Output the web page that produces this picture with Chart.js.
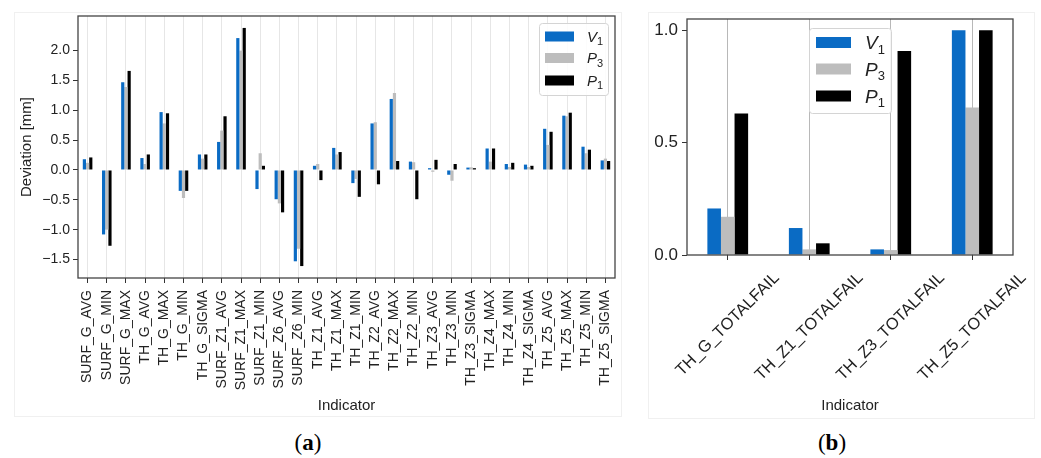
<!DOCTYPE html>
<html>
<head>
<meta charset="utf-8">
<script src="https://cdn.jsdelivr.net/npm/chart.js@4.4.1/dist/chart.umd.min.js"></script>
<style>
  body { margin: 0; background: #fff; width: 1041px; height: 458px; overflow: hidden; position: relative; }
  .panel { position: absolute; border: 1px solid #f0f0f0; }
  canvas { position: absolute; top: 0; }
  .cap { position: absolute; font-family: "Liberation Serif", serif; font-size: 23px; line-height: 30px; width: 60px; text-align: center; color: #000; }
</style>
</head>
<body>
<div class="panel" style="left:14px;top:12px;width:606px;height:403px"></div>
<div class="panel" style="left:648px;top:12px;width:385px;height:405px"></div>
<canvas id="chartA" width="640" height="420" style="left:0"></canvas>
<canvas id="chartB" width="401" height="420" style="left:640px"></canvas>
<div class="cap" style="left:278px;top:428px">(<b>a</b>)</div>
<div class="cap" style="left:802px;top:428px">(<b>b</b>)</div>
<script>
// panel (a): deviations
const categoriesA = ["SURF_G_AVG", "SURF_G_MIN", "SURF_G_MAX", "TH_G_AVG", "TH_G_MAX", "TH_G_MIN", "TH_G_SIGMA",
  "SURF_Z1_AVG", "SURF_Z1_MAX", "SURF_Z1_MIN", "SURF_Z6_AVG", "SURF_Z6_MIN", "TH_Z1_AVG", "TH_Z1_MAX", "TH_Z1_MIN",
  "TH_Z2_AVG", "TH_Z2_MAX", "TH_Z2_MIN", "TH_Z3_AVG", "TH_Z3_MIN", "TH_Z3_SIGMA", "TH_Z4_MAX", "TH_Z4_MIN",
  "TH_Z4_SIGMA", "TH_Z5_AVG", "TH_Z5_MAX", "TH_Z5_MIN", "TH_Z5_SIGMA"];
const v1A = [0.18, -1.08, 1.47, 0.20, 0.97, -0.35, 0.26, 0.47, 2.21, -0.32, -0.49, -1.53, 0.07, 0.37, -0.22,
  0.78, 1.19, 0.14, 0.03, -0.08, 0.04, 0.36, 0.10, 0.09, 0.69, 0.91, 0.39, 0.16];
const p3A = [0.12, -1.00, 1.39, 0.10, 0.78, -0.47, 0.19, 0.66, 2.00, 0.28, -0.56, -1.32, 0.10, 0.26, -0.15,
  0.80, 1.29, 0.13, -0.03, -0.18, 0.045, 0.14, 0.05, 0.05, 0.42, 0.90, 0.28, 0.19];
const p1A = [0.21, -1.27, 1.66, 0.26, 0.95, -0.35, 0.26, 0.90, 2.38, 0.07, -0.71, -1.61, -0.17, 0.30, -0.45,
  -0.24, 0.15, -0.49, 0.17, 0.10, 0.03, 0.36, 0.12, 0.07, 0.64, 0.96, 0.34, 0.15];
const yTicksA = [-1.5, -1.0, -0.5, 0.0, 0.5, 1.0, 1.5, 2.0];
const yMinA = -1.81, yMaxA = 2.58;

// panel (b): total fail
const categoriesB = ["TH_G_TOTALFAIL", "TH_Z1_TOTALFAIL", "TH_Z3_TOTALFAIL", "TH_Z5_TOTALFAIL"];
const v1B = [0.207, 0.12, 0.025, 1.0];
const p3B = [0.17, 0.025, 0.022, 0.656];
const p1B = [0.63, 0.052, 0.908, 1.0];
const yTicksB = [0.0, 0.5, 1.0];
const yMinB = 0, yMaxB = 1.05;

const seriesSym = ["V", "P", "P"];
const seriesSub = ["1", "3", "1"];
const seriesCol = ["#0a6bc4", "#bdbdbd", "#000000"];

const fontFam = '"Liberation Sans", Arial, sans-serif';
Chart.defaults.font.family = fontFam;
Chart.defaults.color = "#222";

function fmt(v) {
  return v.toFixed(1).replace("-", "\u2212");
}

function makeSets(a, b, c) {
  return [a, b, c].map((d, i) => ({
    label: seriesSym[i] + seriesSub[i],
    data: d,
    backgroundColor: seriesCol[i]
  }));
}

function drawLegend(chart, o) {
  const ctx = chart.ctx;
  ctx.save();
  ctx.fillStyle = "rgba(255,255,255,0.85)";
  ctx.strokeStyle = "#d4d4d4";
  ctx.lineWidth = 1;
  ctx.beginPath();
  ctx.roundRect(o.x + 0.5, o.y + 0.5, o.w, o.h, 3);
  ctx.fill();
  ctx.stroke();
  chart.data.datasets.forEach((ds, i) => {
    const cy = o.rows[i];
    ctx.fillStyle = ds.backgroundColor;
    ctx.fillRect(o.px, cy - o.ph / 2, o.pw, o.ph);
    ctx.fillStyle = "#222";
    ctx.textAlign = "left";
    ctx.textBaseline = "alphabetic";
    ctx.font = "italic " + o.fs + "px " + fontFam;
    const base = cy + o.fs * 0.36;
    ctx.fillText(seriesSym[i], o.tx, base);
    const w = ctx.measureText(seriesSym[i]).width;
    ctx.font = Math.round(o.fs * 0.7) + "px " + fontFam;
    ctx.fillText(seriesSub[i], o.tx + w, base + o.fs * 0.22);
  });
  ctx.restore();
}

// frame on all four sides + legend
const frame = {
  id: "frame",
  afterDraw(chart, args, opts) {
    const a = chart.chartArea, ctx = chart.ctx;
    ctx.save();
    ctx.strokeStyle = "#444";
    ctx.lineWidth = 1.3;
    ctx.strokeRect(a.left, a.top, a.right - a.left, a.bottom - a.top);
    ctx.restore();
    drawLegend(chart, opts);
  }
};

// centered 45 degree tick labels (matplotlib style)
const diagLabels = {
  id: "diagLabels",
  afterDraw(chart) {
    const sx = chart.scales.x, ctx = chart.ctx;
    ctx.save();
    ctx.font = "16.5px " + fontFam;
    ctx.fillStyle = "#222";
    ctx.textAlign = "center";
    ctx.textBaseline = "middle";
    chart.data.labels.forEach((lab, i) => {
      const x = sx.getPixelForTick(i);
      const w = ctx.measureText(lab).width;
      const cy = sx.top + 16 + Math.SQRT1_2 * (w / 2 + 6);
      ctx.save();
      ctx.translate(x, cy);
      ctx.rotate(-Math.PI / 4);
      ctx.fillText(lab, 0, 0);
      ctx.restore();
    });
    ctx.restore();
  }
};

new Chart(document.getElementById("chartA"), {
  type: "bar",
  data: { labels: categoriesA, datasets: makeSets(v1A, p3A, p1A) },
  options: {
    responsive: false,
    animation: false,
    layout: { padding: { left: 0, top: 16, right: 25, bottom: 0 } },
    datasets: { bar: { categoryPercentage: 0.5, barPercentage: 1.0 } },
    plugins: {
      legend: { display: false },
      tooltip: { enabled: false },
      frame: { x: 539, y: 23, w: 69, h: 72, px: 545, pw: 29, ph: 10, rows: [36.5, 58, 80.5], tx: 587, fs: 15 }
    },
    scales: {
      x: {
        grid: { offset: false, color: "#e6e6e6", tickColor: "#333", tickLength: 5 },
        border: { display: false },
        ticks: { autoSkip: false, maxRotation: 90, minRotation: 90, padding: 7, font: { size: 14 } },
        title: { display: true, text: "Indicator", font: { size: 15 }, padding: { top: 0, bottom: 5 } },
        afterFit(s) { s.height = 142; s.paddingLeft = 0; s.paddingRight = 0; }
      },
      y: {
        min: yMinA,
        max: yMaxA,
        grid: { drawOnChartArea: false, tickColor: "#333", tickLength: 5 },
        border: { display: false },
        ticks: { padding: 3, font: { size: 14 }, callback: (v) => fmt(v) },
        afterBuildTicks(s) { s.ticks = yTicksA.map((v) => ({ value: v })); },
        title: { display: true, text: "Deviation [mm]", font: { size: 15 }, padding: { top: 18, bottom: 0 } },
        afterFit(s) { s.width = 78; s.paddingTop = 0; s.paddingBottom = 0; }
      }
    }
  },
  plugins: [frame]
});

new Chart(document.getElementById("chartB"), {
  type: "bar",
  data: { labels: categoriesB, datasets: makeSets(v1B, p3B, p1B) },
  options: {
    responsive: false,
    animation: false,
    layout: { padding: { left: 0, top: 19, right: 28, bottom: 0 } },
    datasets: { bar: { categoryPercentage: 0.5, barPercentage: 1.0 } },
    plugins: {
      legend: { display: false },
      tooltip: { enabled: false },
      frame: { x: 169, y: 28, w: 82, h: 85, px: 176, pw: 35, ph: 11, rows: [42.5, 69, 96], tx: 225, fs: 19 }
    },
    scales: {
      x: {
        grid: { offset: false, color: "#b8b8b8", tickColor: "#333", tickLength: 5 },
        border: { display: false },
        ticks: { display: false },
        title: { display: true, text: "Indicator", font: { size: 15 }, padding: { top: 0, bottom: 5 } },
        afterFit(s) { s.height = 165; s.paddingLeft = 0; s.paddingRight = 0; }
      },
      y: {
        min: yMinB,
        max: yMaxB,
        grid: { drawOnChartArea: false, tickColor: "#333", tickLength: 5 },
        border: { display: false },
        ticks: { padding: 4, font: { size: 17 }, callback: (v) => fmt(v) },
        afterBuildTicks(s) { s.ticks = yTicksB.map((v) => ({ value: v })); },
        afterFit(s) { s.width = 47; s.paddingTop = 0; s.paddingBottom = 0; }
      }
    }
  },
  plugins: [frame, diagLabels]
});
</script>
</body>
</html>
